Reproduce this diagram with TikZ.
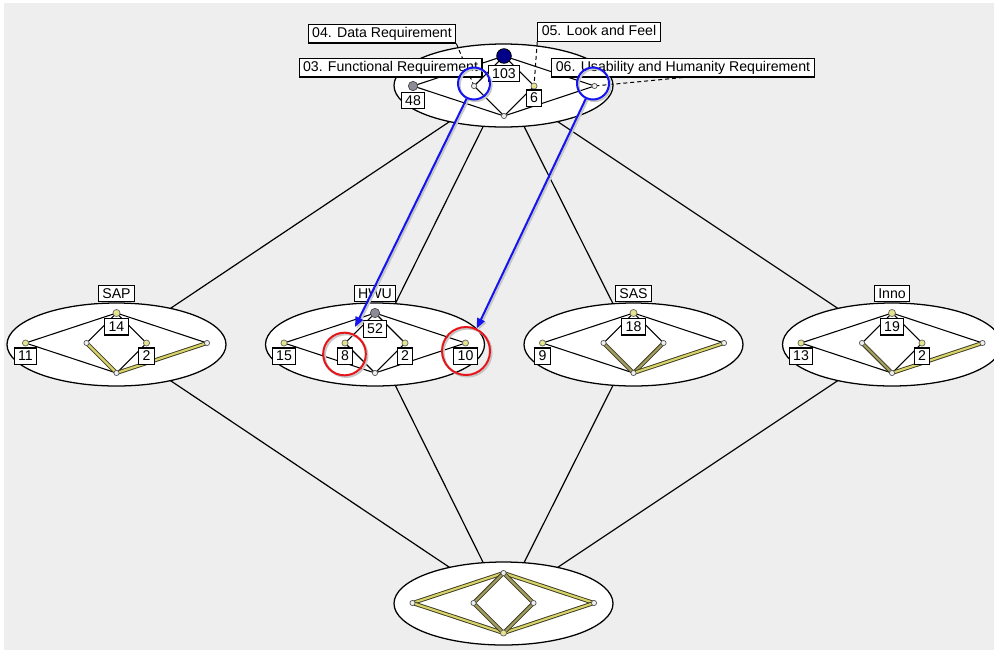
\documentclass[tikz,border=0pt]{standalone}
\usepackage{fontspec}
\setmainfont{Liberation Sans}
\usetikzlibrary{shapes.geometric,arrows.meta,positioning}

\pgfdeclarelayer{bgfill}
\pgfdeclarelayer{outer}
\pgfdeclarelayer{shells}
\pgfdeclarelayer{wires}
\pgfdeclarelayer{marks}
\pgfsetlayers{bgfill,outer,shells,wires,main,marks}

\definecolor{canvas}{HTML}{EEEEEE}
\definecolor{navy}{HTML}{00008B}
\definecolor{slate}{HTML}{8C8C98}
\definecolor{pale}{HTML}{E6E48C}
\definecolor{hlrim}{HTML}{3C3A20}
\definecolor{hlyel}{HTML}{D8D46C}
\definecolor{hlolv}{HTML}{A29E62}
\definecolor{ringblue}{HTML}{1414F0}
\definecolor{ringred}{HTML}{E4161C}

\tikzset{
  shell/.style={ellipse, draw, fill=white, line width=0.95pt,
    minimum width=164.25pt, minimum height=62.25pt, inner sep=0pt},
  link/.style={line width=0.9pt},
  wire/.style={line width=0.8pt},
  hlY/.style={draw=hlrim, line width=3pt, postaction={draw=hlyel, line width=1.6pt}},
  hlO/.style={draw=hlrim, line width=3pt, postaction={draw=hlolv, line width=1.6pt}},
  dotS/.style={circle, draw=black!65, fill=black!6, line width=0.55pt, minimum size=3.9pt, inner sep=0pt},
  dotY/.style={circle, draw=black!60, fill=pale, line width=0.55pt, minimum size=4.6pt, inner sep=0pt},
  dotYL/.style={circle, draw=black!60, fill=pale, line width=0.55pt, minimum size=5.3pt, inner sep=0pt},
  dotG/.style={circle, draw=black!70, fill=slate, line width=0.55pt, minimum size=7pt, inner sep=0pt},
  dotN/.style={circle, draw=black, fill=navy, line width=0.6pt, minimum size=11pt, inner sep=0pt},
  tag/.style={draw, fill=white, line width=0.8pt, font=\fontsize{10.6pt}{12pt}\selectfont,
    inner xsep=3pt, inner ysep=2.1pt, text height=7.6pt, text depth=0.6pt},
  attr/.style={tag, inner ysep=2.2pt, text depth=2.2pt},
  lead/.style={line width=0.75pt, dash pattern=on 3pt off 2.25pt},
  ring/.style={circle, line width=1.5pt, inner sep=0pt,
    preaction={draw=black!22, line width=1.5pt, transform canvas={shift={(1.2pt,-1.2pt)}}}},
  pointer/.style={draw=ringblue, line width=1.5pt, -{Triangle[length=7.5pt,width=6pt]},
    preaction={draw=black!22, line width=1.5pt, transform canvas={shift={(1.2pt,-1.2pt)}}}}
}

% nested diamond lattice: prefix, centre x, centre y, dot styles t l ml mr r b
\newcommand\innerlattice[9]{%
  \node[#4] (#1-t) at (#2,#3-30) {};
  \node[#5] (#1-l) at (#2-91,#3) {};
  \node[#6] (#1-ml) at (#2-30,#3) {};
  \node[#7] (#1-mr) at (#2+30,#3) {};
  \node[#8] (#1-r) at (#2+90.5,#3) {};
  \node[#9] (#1-b) at (#2,#3+30) {};
  \begin{pgfonlayer}{wires}
    \foreach \u/\v in {t/l,t/ml,t/mr,t/r,l/b,ml/b,mr/b,r/b}
      {\draw[wire] (#1-\u.center) -- (#1-\v.center);}
  \end{pgfonlayer}}

\begin{document}
\begin{tikzpicture}[x=0.75pt,y=-0.75pt]
\useasboundingbox (0,0) rectangle (994,650);
\clip (0,0) rectangle (994,650);

\begin{pgfonlayer}{bgfill}
  \fill[white] (0,0) rectangle (994,650);
  \fill[canvas] (4,3) rectangle (994,650);
\end{pgfonlayer}

% outer concept nodes
\begin{pgfonlayer}{shells}
  \node[shell] (shTop) at (503.5,85.5) {};
  \node[shell] (shSAP) at (116.5,344.5) {};
  \node[shell] (shHWU) at (375,344.5) {};
  \node[shell] (shSAS) at (633.5,344.5) {};
  \node[shell] (shInno) at (892,344.5) {};
  \node[shell] (shBot) at (503.5,603.5) {};
\end{pgfonlayer}

% outer lattice lines
\begin{pgfonlayer}{outer}
  \foreach \m in {shSAP,shHWU,shSAS,shInno}{
    \draw[link] (shTop.center) -- (\m.center);
    \draw[link] (\m.center) -- (shBot.center);
  }
\end{pgfonlayer}

% inner lattices
\innerlattice{top}{504}{86}{dotN}{dotG}{dotS}{dotY}{dotS}{dotS}
\innerlattice{sap}{116.5}{343}{dotYL}{dotY}{dotS}{dotY}{dotS}{dotS}
\innerlattice{hwu}{375}{343}{dotG}{dotY}{dotY}{dotY}{dotY}{dotS}
\innerlattice{sas}{633.5}{343}{dotYL}{dotY}{dotS}{dotS}{dotS}{dotS}
\innerlattice{inno}{892}{343}{dotYL}{dotY}{dotS}{dotY}{dotS}{dotS}
\innerlattice{bot}{503.5}{603}{dotS}{dotS}{dotS}{dotS}{dotS}{dotY}

% highlighted inner edges
\begin{pgfonlayer}{wires}
  \draw[hlY] (sap-ml.center) -- (sap-b.center);
  \draw[hlY] (sap-r.center) -- (sap-b.center);
  \draw[hlO] (sas-ml.center) -- (sas-b.center);
  \draw[hlO] (sas-mr.center) -- (sas-b.center);
  \draw[hlY] (sas-r.center) -- (sas-b.center);
  \draw[hlO] (inno-ml.center) -- (inno-b.center);
  \draw[hlY] (inno-r.center) -- (inno-b.center);
  \foreach \u/\v in {t/l,l/b,t/r,r/b}
    {\draw[hlY] (bot-\u.center) -- (bot-\v.center);}
  \foreach \u/\v in {t/ml,t/mr,ml/b,mr/b}
    {\draw[hlO] (bot-\u.center) -- (bot-\v.center);}
\end{pgfonlayer}

% group labels
\node[tag, above=0pt of shSAP] (gSAP) {SAP};
\node[tag, above=0pt of shHWU] (gHWU) {HWU};
\node[tag, above=0pt of shSAS] (gSAS) {SAS};
\node[tag, above=0pt of shInno] (gInno) {Inno};

% object counts
\node[tag, below=0.6pt of top-t] (c103) {103};
\node[tag, below=0.6pt of top-l] (c48) {48};
\node[tag, below=0pt of top-mr] (c6) {6};
\node[tag, below=0.75pt of sap-t] (c14) {14};
\node[tag, below=0.75pt of sap-l] (c11) {11};
\node[tag, below=0.75pt of sap-mr] (c2a) {2};
\node[tag, below=1.5pt of hwu-t] (c52) {52};
\node[tag, below=0.75pt of hwu-l] (c15) {15};
\node[tag, below=0.75pt of hwu-ml] (c8) {8};
\node[tag, below=0.75pt of hwu-mr] (c2b) {2};
\node[tag, below=0.75pt of hwu-r] (c10) {10};
\node[tag, below=0.75pt of sas-t] (c18) {18};
\node[tag, below=0.75pt of sas-l] (c9) {9};
\node[tag, below=0.75pt of inno-t] (c19) {19};
\node[tag, below=0.75pt of inno-l] (c13) {13};
\node[tag, below=0.75pt of inno-mr] (c2c) {2};

% attribute labels
\node[attr] (a04) at (382,33.5) {04. Data Requirement};
\node[attr] (a03) at (390.5,67.5) {03. Functional Requirement};
\node[attr] (a05) at (599,32) {05. Look and Feel};
\node[attr] (a06) at (683,67.5) {06. Usability and Humanity Requirement};

\begin{pgfonlayer}{wires}
  \draw[lead] (a04.south east) -- (top-ml.center);
  \draw[lead] (a03.south east) -- (top-ml.center);
  \draw[lead] (a05.south west) -- (top-mr.center);
  \draw[lead] (a06.south) -- (top-r.center);
\end{pgfonlayer}

% annotation rings and pointers
\begin{pgfonlayer}{marks}
  \node[ring, draw=ringblue, minimum size=24pt] (rF) at (474,83.5) {};
  \node[ring, draw=ringblue, minimum size=24pt] (rU) at (593,83.5) {};
  \node[ring, draw=ringred, minimum size=32pt] (r8) at (344.5,354) {};
  \node[ring, draw=ringred, minimum size=36pt] (r10) at (466,351) {};
  \coordinate (tip8) at (355,327);
  \draw[pointer] (rF) -- (tip8);
  \draw[pointer] (rU) -- (r10);
\end{pgfonlayer}
\end{tikzpicture}
\end{document}
